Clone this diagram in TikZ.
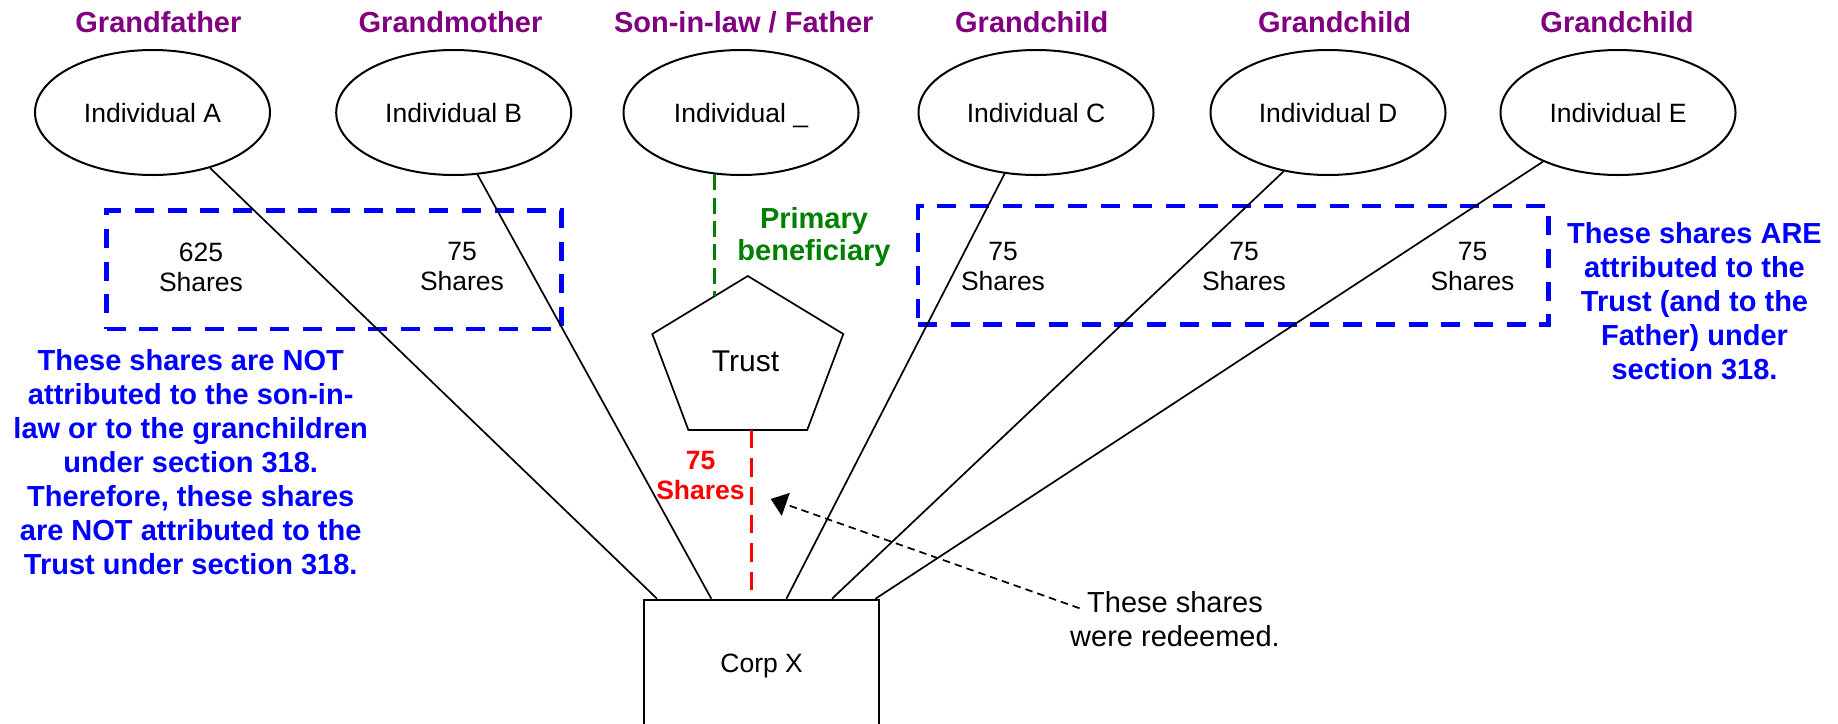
\documentclass[tikz,border=0pt]{standalone}
\usepackage{fontspec}
\setmainfont{Liberation Sans}
\usetikzlibrary{shapes.geometric,arrows.meta}
\definecolor{purp}{RGB}{128,0,128}
\definecolor{bl}{RGB}{0,0,255}
\definecolor{gr}{RGB}{0,128,0}
\definecolor{rd}{RGB}{255,0,0}
\begin{document}
\begin{tikzpicture}[x=1pt,y=-1pt,
 lab/.style={font=\fontsize{29}{34}\selectfont\bfseries, text=purp, inner sep=0pt, anchor=base},
 indiv/.style={draw, ellipse, line width=2pt, minimum width=235pt, minimum height=125pt, inner sep=0pt, text depth=0pt, font=\fontsize{26.5}{31}\selectfont},
 conn/.style={line width=1.7pt},
 bluebox/.style={draw=bl, line width=4.5pt, dash pattern=on 19pt off 13.7pt, inner sep=0pt},
 shares/.style={font=\fontsize{26.5}{30}\selectfont, align=center, inner sep=0pt},
 note/.style={font=\fontsize{29}{34}\selectfont\bfseries, text=bl, align=center, inner sep=0pt},
]
\useasboundingbox (0,0) rectangle (1838,723);
\clip (0,0) rectangle (1838,723);
\fill[white] (0,0) rectangle (1838,723);

% blue frames
\node[bluebox, minimum width=454.9pt, minimum height=118.3pt] (boxL) at (334.15,269.85) {};
\node[bluebox, minimum width=630.3pt, minimum height=118.3pt] (boxR) at (1233.15,265.15) {};

% role labels
\node[lab] (lA) at (158.4,32) {Grandfather};
\node[lab] (lB) at (450.5,32) {Grandmother};
\node[lab] (lF) at (743.7,32) {Son-in-law / Father};
\node[lab] (lC) at (1031.7,32) {Grandchild};
\node[lab] (lD) at (1334.6,32) {Grandchild};
\node[lab] (lE) at (1617,32) {Grandchild};

% individuals
\node[indiv] (A) at (152.5,112.5) {Individual A};
\node[indiv] (B) at (453.7,112.5) {Individual B};
\node[indiv] (F) at (741,112.5) {Individual \_};
\node[indiv] (C) at (1036,112.5) {Individual C};
\node[indiv] (D) at (1328,112.5) {Individual D};
\node[indiv] (E) at (1618,112.5) {Individual E};

% shares texts
\node[shares] (sA) at (201,267) {625\\Shares};
\node[shares] (sB) at (462,267) {75\\Shares};
\node[shares] (sC) at (1003,267) {75\\Shares};
\node[shares] (sD) at (1244,267) {75\\Shares};
\node[shares] (sE) at (1472.5,267) {75\\Shares};

% notes
\node[note] (nL) at (190.7,462.5) {These shares are NOT\\attributed to the son-in-\\law or to the granchildren\\under section 318.\\Therefore, these shares\\are NOT attributed to the\\Trust under section 318.};
\node[note] (nR) at (1694.5,301) {These shares ARE\\attributed to the\\Trust (and to the\\Father) under\\section 318.};

\node[font=\fontsize{29}{32}\selectfont\bfseries, text=gr, align=center, inner sep=0pt] (prim) at (814,237) {Primary\\beneficiary};

% trust pentagon
\coordinate (tT) at (747.8,276);
\coordinate (tUR) at (843.3,334);
\coordinate (tLR) at (807.2,430);
\coordinate (tLL) at (688.4,430);
\coordinate (tUL) at (652.3,334);
\draw[line width=1.7pt, line join=miter] (tT) -- (tUR) -- (tLR) -- (tLL) -- (tUL) -- cycle;
\node[font=\fontsize{30}{34}\selectfont, inner sep=0pt] (trust) at (745.5,361.7) {Trust};

% corp
\node[draw, line width=2pt, minimum width=234.6pt, minimum height=132.6pt, anchor=north, inner sep=0pt, font=\fontsize{26.5}{31}\selectfont] (corp) at (761.7,598.7) {Corp X};

\coordinate (pA) at (657,598.7);
\coordinate (pB) at (711.3,598.7);
\coordinate (pR) at (751.7,598.7);
\coordinate (pC) at (786.4,598.7);
\coordinate (pD) at (832,598.7);
\coordinate (pE) at (875.5,598.7);

\draw[conn] (A) -- (pA);
\draw[conn] (B.-69.7) -- (pB);
\draw[conn] (C) -- (pC);
\draw[conn] (D.-127.8) -- (pD);
\draw[conn] (E) -- (pE);

\draw[gr, line width=3.3pt, dash pattern=on 16pt off 7.3pt] (F.-113.9) -- ++(0,121.7);
\draw[rd, line width=3.3pt, dash pattern=on 18.3pt off 10pt] (tLL -| pR) -- (pR);
\node[font=\fontsize{26.5}{30}\selectfont\bfseries, text=rd, align=center, inner sep=0pt] (r75) at (700.5,475.5) {75\\Shares};

% redeemed note and arrow
\node[font=\fontsize{29}{34}\selectfont, align=center, inner sep=0pt] (redeem) at (1175,619) {These shares\\were redeemed.};
\coordinate (aS) at (1079.6,608.3);
\coordinate (aT) at (770.7,499);
\draw[line width=1.7pt, dash pattern=on 7.5pt off 5pt, -{Triangle[length=16pt,width=24pt]}] (aS) -- (aT);
\end{tikzpicture}
\end{document}
